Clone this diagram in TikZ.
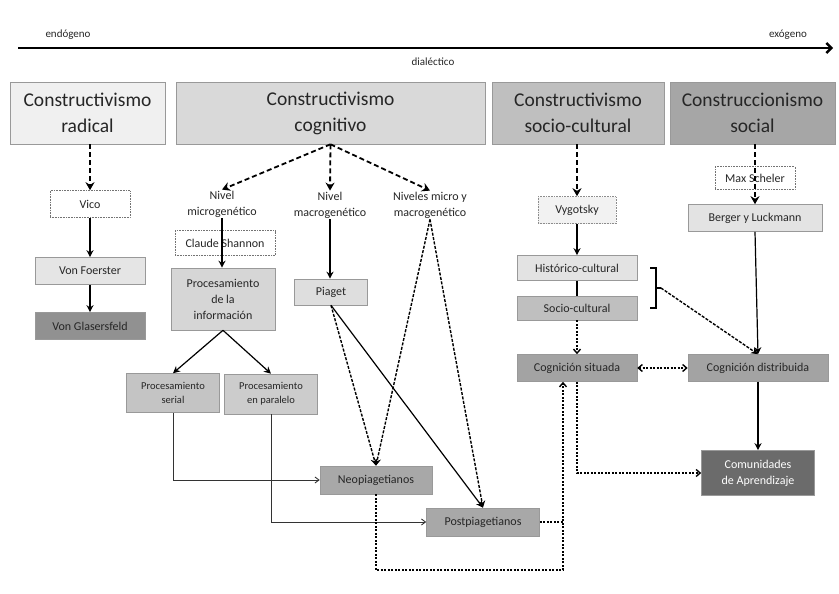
\documentclass[tikz,border=0pt]{standalone}
\usepackage{fontspec}
\setmainfont{Carlito}
\usetikzlibrary{arrows.meta, positioning, calc}

\begin{document}
\begin{tikzpicture}[x=1pt, y=-1pt,
  hdr/.style={rectangle, draw=black!40, semithick, minimum height=62pt, inner sep=1pt, align=center,
              font=\fontsize{19.5}{26}\selectfont, text=black!85},
  box/.style={rectangle, draw=black!40, semithick, minimum height=27pt, inner sep=1pt, align=center,
              font=\fontsize{12}{16}\selectfont, text=black!85},
  dbox/.style={box, densely dotted, draw=black!55, fill=white},
  lbl/.style={align=center, inner sep=1pt, font=\fontsize{12}{16}\selectfont, text=black!85},
  arr/.style={-{Stealth[length=7pt, width=7pt]}, line width=1.2pt},
  thin arr/.style={-{Straight Barb[length=4pt, width=6pt]}, line width=0.9pt, black!80},
  darr/.style={-{Stealth[length=8pt, width=9pt]}, line width=1.8pt, dash pattern=on 5pt off 3pt},
  ddarr/.style={-{Stealth[length=7pt, width=7pt]}, line width=1.4pt, dash pattern=on 3pt off 1.5pt},
  dotarr/.style={-{Straight Barb[length=4pt, width=7pt]}, line width=1.4pt, dash pattern=on 2pt off 1.5pt}
]
\useasboundingbox (0,0) rectangle (839,594);

% eje endogeno - exogeno
\coordinate (axl) at (18,48);
\coordinate (axr) at (833,48);
\draw[line width=2.4pt, -{Straight Barb[length=5pt, width=10pt]}] (axl) -- (axr);
\node[lbl, font=\fontsize{11}{13}\selectfont] (endo) at (68,35) {endógeno};
\node[lbl, font=\fontsize{11}{13}\selectfont] (exo) at (788,35) {exógeno};
\node[lbl, font=\fontsize{11}{13}\selectfont] (dial) at (433,62) {dialéctico};

% cabeceras
\node[hdr, fill=black!6,  minimum width=155pt] (rad)  at (87.5,113) {Constructivismo\\radical};
\node[hdr, fill=black!15, minimum width=309pt] (cog)  at (330.5,113) {Constructivismo\\cognitivo};
\node[hdr, fill=black!25, minimum width=172pt] (soc)  at (578,113) {Constructivismo\\socio-cultural};
\node[hdr, fill=black!35, minimum width=165pt] (cons) at (752.5,113) {Construccionismo\\social};

% radical
\node[dbox, minimum width=80pt]  (vico)     at (90,204) {Vico};
\node[box, fill=black!10, minimum width=110pt] (foerster) at (90,271) {Von Foerster};
\node[box, fill=black!43, minimum width=110pt] (glaser)   at (90,326) {Von Glasersfeld};

% cognitivo
\node[lbl] (nmicro) at (222,204) {Nivel\\microgenético};
\node[lbl] (nmacro) at (330,205) {Nivel\\macrogenético};
\node[lbl] (nboth)  at (430,205) {Niveles micro y\\macrogenético};
\node[dbox, minimum width=100pt, minimum height=25pt] (shannon) at (225,243) {Claude Shannon};
\node[box, fill=black!16, minimum width=104pt, minimum height=62pt] (procinfo) at (223,299) {Procesamiento\\de la\\información};
\node[box, fill=black!13, minimum width=73pt, minimum height=26pt] (piaget) at (331,292) {Piaget};
\node[box, fill=black!23, minimum width=93pt, minimum height=39pt, font=\fontsize{10.5}{14}\selectfont] (serial)   at (173,393) {Procesamiento\\serial};
\node[box, fill=black!20, minimum width=93pt, minimum height=40pt, font=\fontsize{10.5}{14}\selectfont] (paralelo) at (271,394) {Procesamiento\\en paralelo};
\node[box, fill=black!34, minimum width=112pt, minimum height=28pt] (neo)  at (376,480) {Neopiagetianos};
\node[box, fill=black!34, minimum width=113pt, minimum height=28pt] (post) at (483,522) {Postpiagetianos};

% socio-cultural
\node[box, fill=black!5, densely dotted, draw=black!45, minimum width=78pt, minimum height=27pt] (vygotsky) at (577,210) {Vygotsky};
\node[box, fill=black!11, minimum width=120pt, minimum height=25pt] (historico) at (577,268) {Histórico-cultural};
\node[box, fill=black!25, minimum width=120pt, minimum height=24pt] (sociocult) at (577,308) {Socio-cultural};
\node[box, fill=black!36, minimum width=120pt] (situada) at (577,368) {Cognición situada};

% construccionismo social
\node[dbox, minimum width=80pt, minimum height=23pt] (scheler) at (755,178) {Max Scheler};
\node[box, fill=black!11, minimum width=134pt] (berger)  at (755,218) {Berger y Luckmann};
\node[box, fill=black!36, minimum width=140pt] (distrib) at (758,368) {Cognición distribuida};
\node[box, fill=black!58, text=white, minimum width=113pt, minimum height=45pt] (comunid) at (758,473) {Comunidades\\de Aprendizaje};

% conexiones
\draw[darr] (rad.south -| vico.north) -- (vico.north);
\draw[arr] (vico) -- (foerster);
\draw[arr] (foerster) -- (glaser);

\draw[darr] (cog.south) -- (nmicro.north);
\draw[darr] (cog.south) -- (nmacro.north);
\draw[darr] (cog.south) -- (nboth.north);
\draw[arr] (nmicro.south) -- (nmicro.south |- procinfo.north);
\draw[arr] (nmacro.south) -- (nmacro.south |- piaget.north);
\draw[arr] (procinfo.south) -- (serial.north);
\draw[arr] (procinfo.south) -- (paralelo.north);
\draw[ddarr] (piaget.south) -- (neo.north);
\draw[arr] (piaget.south) -- (post.north);
\draw[ddarr] (nboth.south) -- (neo.north);
\draw[ddarr] (nboth.south) -- (post.north);
\draw[thin arr] (serial.south) |- (neo.west);
\draw[thin arr] (paralelo.south) |- (post.west);

\coordinate (jn) at (563,570);
\draw[dotarr] (neo.south) |- (jn) -- (jn |- situada.south);
\draw[dotarr, -] (post.east) -- (post.east -| jn);

\draw[darr] (soc.south -| vygotsky.north) -- (vygotsky.north);
\draw[arr] (vygotsky) -- (historico);
\draw[line width=1.2pt] (historico) -- (sociocult);
\draw[dotarr] (sociocult) -- (situada);
\draw[dotarr, {Straight Barb[length=4pt, width=7pt]}-{Straight Barb[length=4pt, width=7pt]}] (situada) -- (distrib);
\draw[dotarr] (situada.south) |- (comunid.west);

% llave
\draw[line width=1.2pt] (650,268) -- (656,268) -- (656,308) -- (650,308);
\coordinate (brk) at (661,288);
\draw[line width=1.2pt] (656,288) -- (brk);
\draw[ddarr] (brk) -- (distrib.north);

\draw[darr] (berger.north |- cons.south) -- (berger.north);
\draw[arr] (berger.south) -- (distrib.north);
\draw[arr] (distrib) -- (comunid);
\end{tikzpicture}
\end{document}
